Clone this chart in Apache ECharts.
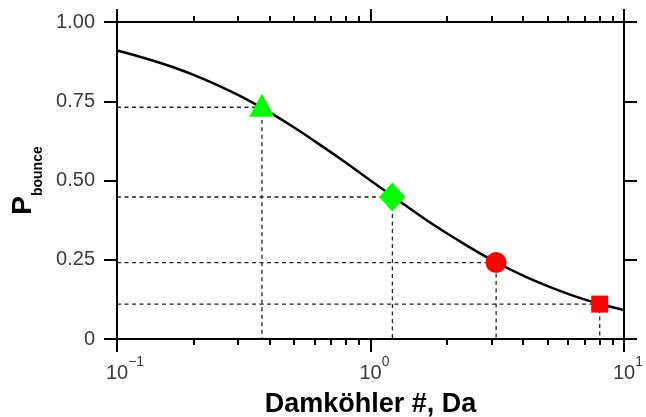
<!DOCTYPE html>
<html>
<head>
<meta charset="utf-8">
<script src="https://cdn.jsdelivr.net/npm/echarts@6/dist/echarts.min.js"></script>
<style>
  html, body { margin: 0; padding: 0; background: #fff; }
  #chart { width: 646px; height: 417px; }
</style>
</head>
<body>
<div id="chart"></div>
<script>
// Bounce probability versus Damköhler number (log scale)
const curveDa = [0.1, 0.13, 0.17, 0.22, 0.3, 0.4, 0.5, 0.65, 0.8, 1, 1.3, 1.7, 2.2, 3, 4, 5, 6.5, 8, 10];
const curveP  = [0.91, 0.885, 0.855, 0.82, 0.77, 0.715, 0.667, 0.606, 0.556, 0.5, 0.435, 0.37, 0.313, 0.25, 0.2, 0.167, 0.133, 0.111, 0.091];

// Highlighted operating points
const pointDa = [0.373, 1.22, 3.13, 8.02];
const pointP  = [0.731, 0.448, 0.241, 0.11];
const pointSymbol = ['triangle', 'diamond', 'circle', 'rect'];
const pointSize = [[25, 23], [26, 29], [21, 21], [17, 17]];
const pointOffset = [[0, -2], [0, 0], [0, 0], [0, 0]];
const pointColor = ['#00ff00', '#00ff00', '#ff0000', '#ff0000'];

// Axis ticks
const xMajor = [0.1, 1, 10];
const xMinor = [0.2, 0.3, 0.4, 0.5, 0.6, 0.7, 0.8, 0.9, 2, 3, 4, 5, 6, 7, 8, 9];
const yTicks = [0, 0.25, 0.5, 0.75, 1];
const yTickLabels = ['0', '0.25', '0.50', '0.75', '1.00'];

const X_MIN = 0.1, X_MAX = 10;
const FONT = 'Liberation Sans, Arial, Helvetica, sans-serif';
const INK = '#000';
const LABEL = '#3a3a3a';

const chart = echarts.init(document.getElementById('chart'), null, { renderer: 'canvas' });

function logAxis(position, ticks, tickLen, withLine, withLabels) {
  return {
    type: 'log',
    logBase: 10,
    position: position,
    min: X_MIN,
    max: X_MAX,
    gridIndex: 0,
    axisLine: { show: withLine, onZero: false, lineStyle: { color: INK, width: 2 } },
    axisTick: { show: true, inside: false, length: tickLen, customValues: ticks, lineStyle: { color: INK, width: 2 } },
    minorTick: { show: false },
    splitLine: { show: false },
    axisLabel: withLabels ? {
      show: true,
      margin: 22,
      customValues: xMajor,
      fontFamily: FONT,
      formatter: function (v) {
        const e = Math.round(Math.log10(v));
        const s = e < 0 ? '\u2212' + (-e) : String(e);
        const pad = s.length > 1 ? 'pw' : 'pn';
        return '{' + pad + '| }{b|10}{s|' + s + '}';
      },
      rich: {
        pw: { width: 16, fontSize: 20, lineHeight: 22, verticalAlign: 'bottom' },
        pn: { width: 8, fontSize: 20, lineHeight: 22, verticalAlign: 'bottom' },
        b: { fontSize: 20, lineHeight: 22, color: LABEL, fontFamily: FONT, verticalAlign: 'bottom' },
        s: { fontSize: 14, lineHeight: 14, color: LABEL, fontFamily: FONT, padding: [0, 0, 14, 0], verticalAlign: 'bottom' }
      }
    } : { show: false },
    name: withLabels ? 'Damköhler #, Da' : '',
    nameLocation: 'middle',
    nameGap: 52,
    nameTextStyle: { fontFamily: FONT, fontWeight: 'bold', fontSize: 27, color: INK }
  };
}

function valueAxis(position, withLabels) {
  return {
    type: 'value',
    position: position,
    min: 0,
    max: 1,
    interval: 0.25,
    gridIndex: 0,
    axisLine: { show: true, onZero: false, lineStyle: { color: INK, width: 2 } },
    axisTick: { show: true, inside: false, length: 13, lineStyle: { color: INK, width: 2 } },
    splitLine: { show: false },
    axisLabel: withLabels ? {
      show: true,
      margin: 22,
      fontSize: 20,
      fontFamily: FONT,
      color: LABEL,
      formatter: function (v) {
        const i = yTicks.findIndex(t => Math.abs(t - v) < 1e-9);
        return i >= 0 ? yTickLabels[i] : '';
      }
    } : { show: false },
    name: withLabels ? '{p|P}{s|bounce}' : '',
    nameLocation: 'middle',
    nameGap: 71,
    nameRotate: 90,
    nameTextStyle: {
      color: INK,
      fontFamily: FONT,
      fontWeight: 'bold',
      rich: {
        p: { fontSize: 28, lineHeight: 32, fontWeight: 'bold', fontFamily: FONT, color: INK, verticalAlign: 'top' },
        s: { fontSize: 14, lineHeight: 16, fontWeight: 'bold', fontFamily: FONT, color: INK, padding: [22, 0, 0, 0], verticalAlign: 'top' }
      }
    }
  };
}

const series = [];

// Dashed guide lines from each point to both axes
pointDa.forEach(function (d, i) {
  series.push({
    type: 'line',
    xAxisIndex: 0,
    yAxisIndex: 0,
    data: [[X_MIN, pointP[i]], [d, pointP[i]], [d, 0]],
    symbol: 'none',
    silent: true,
    z: 1,
    lineStyle: { color: '#222', width: 1.3, type: [4, 3.5] }
  });
});

// Bounce probability curve
series.push({
  type: 'line',
  xAxisIndex: 0,
  yAxisIndex: 0,
  data: curveDa.map((d, i) => [d, curveP[i]]),
  smooth: 0.4,
  symbol: 'none',
  z: 2,
  lineStyle: { color: INK, width: 2.5 }
});

// Marked points
pointDa.forEach(function (d, i) {
  series.push({
    type: 'scatter',
    xAxisIndex: 0,
    yAxisIndex: 0,
    data: [[d, pointP[i]]],
    symbol: pointSymbol[i],
    symbolSize: pointSize[i],
    symbolOffset: pointOffset[i],
    z: 3,
    itemStyle: { color: pointColor[i], opacity: 1 }
  });
});

chart.setOption({
  animation: false,
  backgroundColor: '#fff',
  grid: { left: 117, right: 22, top: 22, bottom: 78, containLabel: false, outerBoundsMode: 'none' },
  xAxis: [
    logAxis('bottom', xMajor, 13, true, true),
    logAxis('bottom', xMinor, 6, false, false),
    logAxis('top', xMajor, 13, true, false),
    logAxis('top', xMinor, 6, false, false)
  ],
  yAxis: [
    valueAxis('left', true),
    valueAxis('right', false)
  ],
  series: series
});
</script>
</body>
</html>
